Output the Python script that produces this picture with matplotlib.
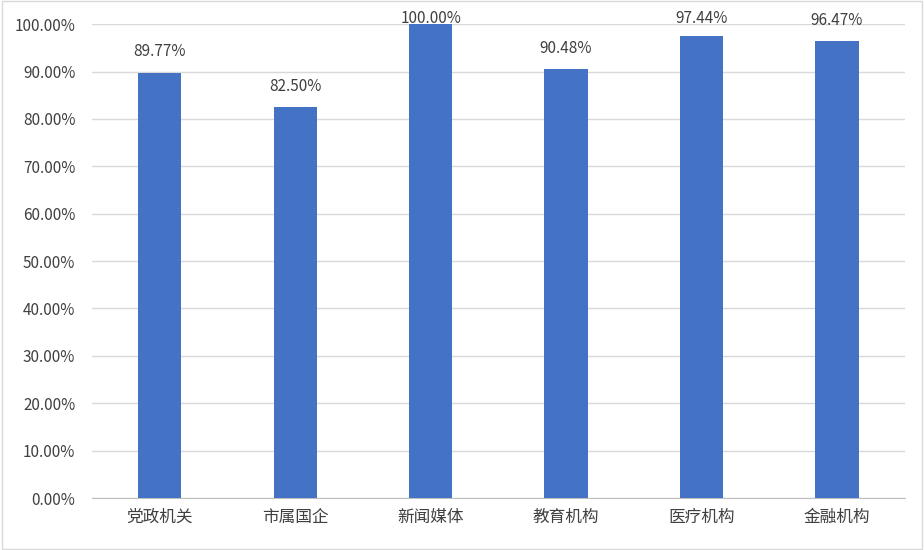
import matplotlib
matplotlib.use("Agg")
import matplotlib.pyplot as plt
from matplotlib.ticker import FuncFormatter
from matplotlib.patches import Rectangle

plt.rcParams['font.family'] = ['Noto Sans CJK SC', 'DejaVu Sans']

categories = ["党政机关", "市属国企", "新闻媒体", "教育机构", "医疗机构", "金融机构"]
values = [89.77, 82.50, 100.00, 90.48, 97.44, 96.47]

fig = plt.figure(figsize=(9.24, 5.50), dpi=100)
ax = fig.add_axes([0.0996, 0.0945, 0.8794, 0.8615])
x = range(len(categories))
bars = ax.bar(x, values, width=0.32, color="#4472C4", zorder=3)
for xi, v in zip(x, values):
    ax.text(xi, min(v + 4.4, 101.3), f"{v:.2f}%", ha="center", va="center",
            fontsize=11, color="#404040", zorder=4, clip_on=False)
ax.set_ylim(0, 100)
ax.set_xlim(-0.5, len(categories) - 0.5)
ax.set_yticks(range(0, 101, 10))
ax.yaxis.set_major_formatter(FuncFormatter(lambda v, p: f"{v:.2f}%"))
ax.set_xticks(list(x))
ax.set_xticklabels(categories, fontsize=12, color="#404040")
ax.tick_params(axis="y", labelsize=11, labelcolor="#404040", length=0, pad=12)
ax.tick_params(axis="x", length=0, pad=8)
ax.grid(axis="y", color="#D9D9D9", linewidth=1, zorder=0)
for s in ["top", "right", "left"]:
    ax.spines[s].set_visible(False)
ax.spines["bottom"].set_color("#BFBFBF")
fig.patches.append(Rectangle((0.002, 0.002), 0.996, 0.996, transform=fig.transFigure,
                             fill=False, edgecolor="#D9D9D9", linewidth=1))
fig.savefig("out.png", dpi=100)
